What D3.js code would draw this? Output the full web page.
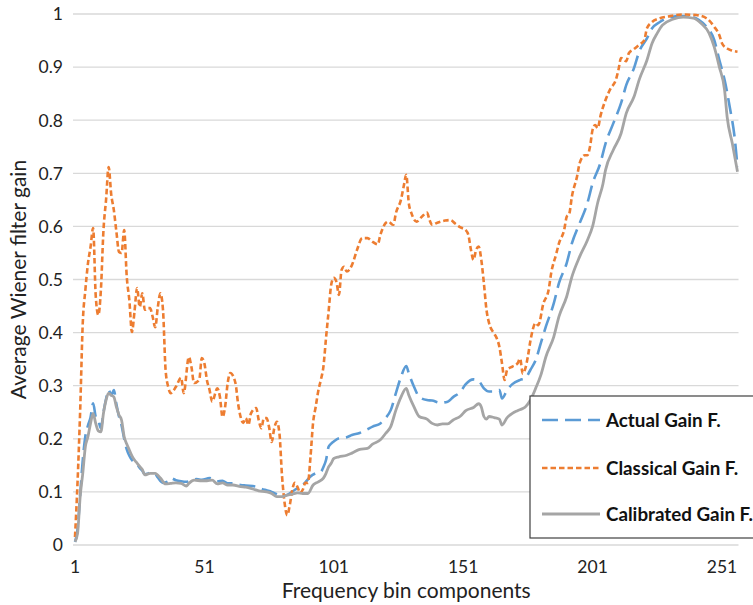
<!DOCTYPE html>
<html>
<head>
<meta charset="utf-8">
<script src="https://cdn.jsdelivr.net/npm/d3@7/dist/d3.min.js"></script>
<style>
  html, body { margin: 0; padding: 0; background: #fff; }
  svg { display: block; font-family: Lato, "Open Sans", sans-serif; }
</style>
</head>
<body>
<svg id="chart" width="753" height="605"></svg>
<script>
// ---------- data ----------
const seriesNames = ["Actual Gain F.", "Classical Gain F.", "Calibrated Gain F."];
const xTickLabels = [1, 51, 101, 151, 201, 251];
const yTickLabels = [0, 0.1, 0.2, 0.3, 0.4, 0.5, 0.6, 0.7, 0.8, 0.9, 1];

const actualBins = [1,2,3,4,5,6,7,8,9,10,11,12,13,14,15,16,17,18,19,20,21,22,23,24,25,26,27,28,29,30,32,33,35,37,38,40,42,44,46,48,50,53,56,58,60,62,65,67,71,73,75,77,80,82,84,86,88,90,92,94,96,97,98,99,100,101,103,106,108,111,114,116,119,121,123,125,127,129,130,132,134,137,139,142,145,147,150,152,155,157,159,161,163,165,166,168,170,173,175,177,179,181,183,186,188,191,193,196,199,201,204,206,209,212,214,217,219,222,224,227,231,235,239,242,245,248,250,252,254,256,257];
const actualValues = [.006,.03,.095,.16,.205,.225,.24,.267,.242,.235,.22,.25,.275,.292,.282,.292,.265,.242,.225,.20,.18,.168,.16,.155,.152,.145,.14,.133,.134,.136,.134,.127,.117,.12,.126,.122,.12,.119,.122,.124,.123,.126,.12,.121,.116,.116,.113,.112,.11,.106,.103,.1,.094,.093,.097,.104,.11,.118,.129,.135,.138,.147,.16,.185,.191,.195,.201,.203,.207,.211,.218,.223,.229,.239,.254,.286,.317,.337,.323,.298,.279,.273,.272,.268,.27,.278,.289,.303,.312,.309,.295,.289,.289,.292,.276,.292,.303,.311,.314,.33,.348,.38,.412,.455,.493,.531,.568,.606,.644,.681,.719,.756,.794,.832,.866,.898,.929,.954,.973,.985,.994,.996,.995,.989,.976,.951,.913,.876,.825,.763,.712];

const classicalBins = [1,2,3,4,5,6,7,8,9,10,11,12,13,14,15,16,17,18,19,20,21,22,23,24,25,26,27,28,29,30,31,32,33,34,35,36,37,38,40,42,43,45,46,47,49,50,51,52,53,54,56,57,58,59,60,61,63,64,65,66,67,68,69,71,72,73,74,75,76,77,78,79,80,81,82,83,84,85,86,87,88,89,90,91,92,93,94,95,96,97,98,99,100,101,102,103,104,105,106,108,110,112,114,116,118,119,121,122,124,125,127,128,129,130,131,133,135,137,138,139,141,144,146,148,150,152,153,154,155,156,157,158,159,160,161,163,164,165,166,167,168,170,172,173,174,175,176,177,179,180,182,184,185,187,188,190,191,192,193,195,196,198,199,200,201,202,203,204,206,208,210,211,212,214,215,217,219,221,222,224,227,231,236,241,245,248,250,251,253,255,257];
const classicalValues = [.015,.12,.254,.418,.48,.53,.561,.597,.47,.433,.48,.593,.65,.712,.66,.631,.59,.552,.55,.593,.505,.461,.401,.44,.484,.448,.474,.443,.446,.446,.43,.41,.448,.474,.443,.33,.298,.286,.298,.315,.286,.354,.335,.305,.311,.352,.342,.31,.292,.27,.295,.279,.241,.26,.305,.324,.305,.267,.241,.23,.239,.226,.248,.258,.235,.22,.239,.239,.222,.194,.22,.232,.21,.13,.079,.056,.075,.105,.117,.109,.098,.104,.117,.117,.166,.23,.26,.29,.311,.336,.39,.44,.49,.503,.496,.471,.518,.524,.515,.527,.556,.578,.578,.571,.566,.584,.606,.609,.603,.625,.651,.675,.697,.643,.625,.609,.618,.626,.612,.603,.607,.611,.612,.605,.598,.593,.584,.556,.537,.556,.562,.537,.493,.443,.418,.398,.389,.373,.342,.311,.33,.336,.342,.351,.323,.332,.355,.385,.418,.414,.455,.48,.512,.549,.568,.593,.618,.624,.656,.694,.719,.734,.734,.75,.782,.791,.785,.807,.838,.86,.876,.895,.917,.911,.926,.934,.942,.951,.973,.985,.992,.996,.999,.998,.992,.976,.96,.945,.935,.931,.929];

const calibratedBins = [1,2,3,4,5,6,7,8,9,10,11,12,13,14,15,16,17,18,19,20,21,22,23,24,25,26,27,28,30,32,34,36,38,40,42,44,45,47,50,52,54,56,58,60,62,65,67,70,72,75,77,79,81,83,85,87,89,91,93,95,97,98,99,100,101,103,106,108,111,114,116,119,121,123,125,127,129,130,132,134,137,139,141,143,145,147,150,152,155,157,158,159,160,161,163,165,166,168,170,172,174,175,177,179,181,183,186,188,191,193,196,199,201,203,205,206,209,212,214,217,219,222,224,226,228,232,236,240,243,246,248,250,252,253,255,257];
const calibratedValues = [.006,.022,.091,.135,.185,.204,.229,.248,.229,.215,.213,.248,.273,.286,.282,.279,.26,.245,.235,.204,.19,.179,.168,.16,.154,.148,.142,.132,.135,.135,.126,.115,.116,.117,.116,.111,.116,.122,.121,.121,.122,.115,.117,.113,.113,.11,.109,.105,.102,.1,.097,.091,.091,.094,.096,.098,.097,.097,.113,.119,.126,.135,.147,.154,.163,.166,.169,.173,.18,.182,.19,.198,.21,.223,.254,.279,.295,.282,.26,.242,.237,.229,.226,.228,.228,.235,.243,.253,.259,.266,.26,.242,.237,.242,.24,.237,.226,.24,.248,.253,.257,.26,.273,.295,.32,.355,.392,.43,.468,.505,.543,.574,.6,.645,.68,.706,.744,.775,.813,.844,.876,.913,.945,.964,.979,.99,.994,.992,.982,.964,.938,.9,.857,.806,.756,.703];

// ---------- chart ----------
const svg = d3.select("#chart");
const x = d3.scaleLinear().domain([1, 257]).range([75, 737.5]);
const y = d3.scaleLinear().domain([0, 1]).range([545, 14]);

// gridlines
svg.append("g").selectAll("line").data(yTickLabels).join("line")
  .attr("x1", x(1) - 2).attr("x2", x(257) + 1)
  .attr("y1", d => y(d)).attr("y2", d => y(d))
  .attr("stroke", "#d9d9d9").attr("stroke-width", 1.3);

// y tick labels
svg.append("g").selectAll("text").data(yTickLabels).join("text")
  .attr("x", 63).attr("y", d => y(d)).attr("dy", "0.36em")
  .attr("text-anchor", "end").attr("font-size", 17.5).attr("fill", "#222")
  .text(d => d);

// x tick labels
svg.append("g").selectAll("text").data(xTickLabels).join("text")
  .attr("x", d => x(d)).attr("y", 573)
  .attr("text-anchor", "middle").attr("font-size", 17.5).attr("fill", "#222")
  .text(d => d);

// axis titles
svg.append("text").attr("x", x(129)).attr("y", 598)
  .attr("text-anchor", "middle").attr("font-size", 21).attr("fill", "#222")
  .text("Frequency bin components");
svg.append("text").attr("transform", `translate(26,${y(0.5)}) rotate(-90)`)
  .attr("text-anchor", "middle").attr("font-size", 21).attr("fill", "#222")
  .text("Average Wiener filter gain");

const styles = [
  { color: "#5B9BD5", dash: "16,7", width: 2.6 },
  { color: "#ED7D31", dash: "5.5,3", width: 2.6 },
  { color: "#A5A5A5", dash: null, width: 2.8 }
];
const series = [
  actualBins.map((b, i) => [b, actualValues[i]]),
  classicalBins.map((b, i) => [b, classicalValues[i]]),
  calibratedBins.map((b, i) => [b, calibratedValues[i]])
];
const line = d3.line().x(d => x(d[0])).y(d => y(d[1])).curve(d3.curveMonotoneX);

series.forEach((s, i) => {
  svg.append("path").datum(s)
    .attr("d", line)
    .attr("fill", "none")
    .attr("stroke", styles[i].color)
    .attr("stroke-width", styles[i].width)
    .attr("stroke-linejoin", "round")
    .attr("stroke-dasharray", styles[i].dash);
});

// legend
const lg = svg.append("g");
lg.append("rect").attr("x", 530).attr("y", 396).attr("width", 240).attr("height", 142)
  .attr("fill", "#fff").attr("stroke", "#404040").attr("stroke-width", 1.2);
const legendY = [420, 468, 514];
seriesNames.forEach((name, i) => {
  lg.append("line").attr("x1", 542).attr("x2", 600)
    .attr("y1", legendY[i]).attr("y2", legendY[i])
    .attr("stroke", styles[i].color).attr("stroke-width", styles[i].width)
    .attr("stroke-dasharray", styles[i].dash);
  lg.append("text").attr("x", 606).attr("y", legendY[i]).attr("dy", "0.36em")
    .attr("font-size", 18.8).attr("font-weight", "bold").attr("fill", "#111")
    .text(name);
});
</script>
</body>
</html>
